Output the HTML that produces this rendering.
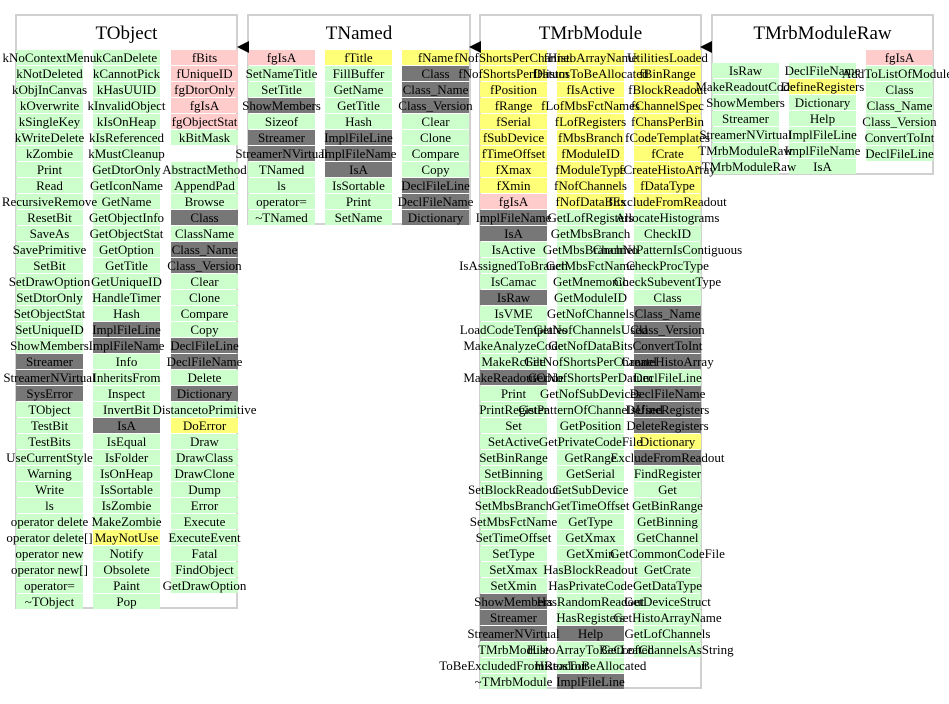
<!DOCTYPE html>
<html><head><meta charset="utf-8">
<style>
html,body{margin:0;padding:0;background:#fff;}
svg{display:block;}
text{font-family:"Liberation Serif",serif;}
</style></head>
<body>
<svg id="chart" width="949" height="704" viewBox="0 0 949 704" xmlns="http://www.w3.org/2000/svg"></svg>
<script>
// Member lists per class column; color codes: g=method (green), p=static member (pink), y=data member (yellow), d=generated (gray), n=none
const tobjectCol1 = ["kNoContextMenu","kNotDeleted","kObjInCanvas","kOverwrite","kSingleKey","kWriteDelete","kZombie","Print","Read","RecursiveRemove","ResetBit","SaveAs","SavePrimitive","SetBit","SetDrawOption","SetDtorOnly","SetObjectStat","SetUniqueID","ShowMembers","Streamer","StreamerNVirtual","SysError","TObject","TestBit","TestBits","UseCurrentStyle","Warning","Write","ls","operator delete","operator delete[]","operator new","operator new[]","operator=","~TObject"];
const tobjectCol1Kinds = "gggggggggggggggggggdddggggggggggggg";
const tobjectCol2 = ["kCanDelete","kCannotPick","kHasUUID","kInvalidObject","kIsOnHeap","kIsReferenced","kMustCleanup","GetDtorOnly","GetIconName","GetName","GetObjectInfo","GetObjectStat","GetOption","GetTitle","GetUniqueID","HandleTimer","Hash","ImplFileLine","ImplFileName","Info","InheritsFrom","Inspect","InvertBit","IsA","IsEqual","IsFolder","IsOnHeap","IsSortable","IsZombie","MakeZombie","MayNotUse","Notify","Obsolete","Paint","Pop"];
const tobjectCol2Kinds = "gggggggggggggggggddggggdggggggygggggg";
const tobjectCol3 = ["fBits","fUniqueID","fgDtorOnly","fgIsA","fgObjectStat","kBitMask","","AbstractMethod","AppendPad","Browse","Class","ClassName","Class_Name","Class_Version","Clear","Clone","Compare","Copy","DeclFileLine","DeclFileName","Delete","Dictionary","DistancetoPrimitive","DoError","Draw","DrawClass","DrawClone","Dump","Error","Execute","ExecuteEvent","Fatal","FindObject","GetDrawOption"];
const tobjectCol3Kinds = "pppppgngggdgddggggddgdgyggggggggggg";

const tnamedCol1 = ["fgIsA","SetNameTitle","SetTitle","ShowMembers","Sizeof","Streamer","StreamerNVirtual","TNamed","ls","operator=","~TNamed"];
const tnamedCol1Kinds = "pggdgddgggg";
const tnamedCol2 = ["fTitle","FillBuffer","GetName","GetTitle","Hash","ImplFileLine","ImplFileName","IsA","IsSortable","Print","SetName"];
const tnamedCol2Kinds = "yggggdddggg";
const tnamedCol3 = ["fName","Class","Class_Name","Class_Version","Clear","Clone","Compare","Copy","DeclFileLine","DeclFileName","Dictionary"];
const tnamedCol3Kinds = "ydddggggddd";

const moduleCol1 = ["fNofShortsPerChannel","fNofShortsPerDatum","fPosition","fRange","fSerial","fSubDevice","fTimeOffset","fXmax","fXmin","fgIsA","ImplFileName","IsA","IsActive","IsAssignedToBranch","IsCamac","IsRaw","IsVME","LoadCodeTemplates","MakeAnalyzeCode","MakeRcFile","MakeReadoutCode","Print","PrintRegister","Set","SetActive","SetBinRange","SetBinning","SetBlockReadout","SetMbsBranch","SetMbsFctName","SetTimeOffset","SetType","SetXmax","SetXmin","ShowMembers","Streamer","StreamerNVirtual","TMrbModule","ToBeExcludedFromReadout","~TMrbModule"];
const moduleCol1Kinds = "yyyyyyyyypddgggdggggdgggggggggggggdddggg";
const moduleCol2 = ["fHistoArrayName","fHistosToBeAllocated","fIsActive","fLofMbsFctNames","fLofRegisters","fMbsBranch","fModuleID","fModuleType","fNofChannels","fNofDataBits","GetLofRegisters","GetMbsBranch","GetMbsBranchNo","GetMbsFctName","GetMnemonic","GetModuleID","GetNofChannels","GetNofChannelsUsed","GetNofDataBits","GetNofShortsPerChannel","GetNofShortsPerDatum","GetNofSubDevices","GetPatternOfChannelsUsed","GetPosition","GetPrivateCodeFile","GetRange","GetSerial","GetSubDevice","GetTimeOffset","GetType","GetXmax","GetXmin","HasBlockReadout","HasPrivateCode","HasRandomReadout","HasRegisters","Help","HistoArrayToBeCreated","HistosToBeAllocated","ImplFileLine"];
const moduleCol2Kinds = "yyyyyyyyyyggggggggggggggggggggggggggdggd";
const moduleCol3 = ["UtilitiesLoaded","fBinRange","fBlockReadout","fChannelSpec","fChansPerBin","fCodeTemplates","fCrate","fCreateHistoArray","fDataType","fExcludeFromReadout","AllocateHistograms","CheckID","ChannelPatternIsContiguous","CheckProcType","CheckSubeventType","Class","Class_Name","Class_Version","ConvertToInt","CreateHistoArray","DeclFileLine","DeclFileName","DefineRegisters","DeleteRegisters","Dictionary","ExcludeFromReadout","FindRegister","Get","GetBinRange","GetBinning","GetChannel","GetCommonCodeFile","GetCrate","GetDataType","GetDeviceStruct","GetHistoArrayName","GetLofChannels","GetLofChannelsAsString"];
const moduleCol3Kinds = "yyyyyyyyyyggggggddddgdddydgggggggggggg";

const rawCol1 = ["IsRaw","MakeReadoutCode","ShowMembers","Streamer","StreamerNVirtual","TMrbModuleRaw","~TMrbModuleRaw"];
const rawCol1Kinds = "ggggggg";
const rawCol2 = ["DeclFileName","DefineRegisters","Dictionary","Help","ImplFileLine","ImplFileName","IsA"];
const rawCol2Kinds = "gyggggg";
const rawCol3 = ["fgIsA","AddToListOfModules","Class","Class_Name","Class_Version","ConvertToInt","DeclFileLine"];
const rawCol3Kinds = "pgggggg";

const NS = "http://www.w3.org/2000/svg";
const svg = document.getElementById("chart");
const fills = {g:"#ccffcc", p:"#ffcccc", y:"#ffff77", d:"#777777"};
const ROW = 16, CELLH = 15, CELLW = 67;
const bgLayer = document.createElementNS(NS, "g");
const txtLayer = document.createElementNS(NS, "g");

function mk(tag, attrs, parent) {
  const el = document.createElementNS(NS, tag);
  for (const k in attrs) el.setAttribute(k, attrs[k]);
  parent.appendChild(el);
  return el;
}
function drawBox(name, x, y, w, h, title) {
  const r = mk("rect", {x:x, y:y, width:w, height:h, fill:"#fff", stroke:"#d0d0d0", "stroke-width":2}, svg);
  
  
  const t = mk("text", {x:x + w / 2, y:y + 24, "text-anchor":"middle", "font-size":19, fill:"#000"}, svg);
  t.textContent = title;
  
  
}
function drawCol(name, x, y0, labels, kinds) {
  labels.forEach((lab, i) => {
    const k = kinds[i] || "g";
    if (!lab) return;
    const y = y0 + i * ROW;
    const r = mk("rect", {x:x, y:y, width:CELLW, height:CELLH, fill:fills[k] || "#fff"}, bgLayer);
    
    
    const t = mk("text", {x:x + CELLW / 2, y:y + 12, "text-anchor":"middle", "font-size":13, fill:"#000"}, txtLayer);
    t.textContent = lab;
    
    
  });
}
function drawArrow(name, tipX, tipY) {
  const p = mk("polygon", {points: tipX + "," + tipY + " " + (tipX + 12) + "," + (tipY - 6) + " " + (tipX + 12) + "," + (tipY + 6), fill:"#000"}, svg);
  
  
}

drawBox("tobject", 16, 15, 221, 593, "TObject");
drawBox("tnamed", 248, 15, 222, 209, "TNamed");
drawBox("tmrbmodule", 480, 15, 221, 673, "TMrbModule");
drawBox("tmrbmoduleraw", 712, 15, 221, 159, "TMrbModuleRaw");
svg.appendChild(bgLayer);
svg.appendChild(txtLayer);

drawCol("tobject-col1", 16, 50, tobjectCol1, tobjectCol1Kinds);
drawCol("tobject-col2", 93, 50, tobjectCol2, tobjectCol2Kinds);
drawCol("tobject-col3", 171, 50, tobjectCol3, tobjectCol3Kinds);
drawCol("tnamed-col1", 248, 50, tnamedCol1, tnamedCol1Kinds);
drawCol("tnamed-col2", 325, 50, tnamedCol2, tnamedCol2Kinds);
drawCol("tnamed-col3", 402, 50, tnamedCol3, tnamedCol3Kinds);
drawCol("tmrbmodule-col1", 480, 50, moduleCol1, moduleCol1Kinds);
drawCol("tmrbmodule-col2", 557, 50, moduleCol2, moduleCol2Kinds);
drawCol("tmrbmodule-col3", 634, 50, moduleCol3, moduleCol3Kinds);
drawCol("tmrbmoduleraw-col1", 712, 63, rawCol1, rawCol1Kinds);
drawCol("tmrbmoduleraw-col2", 789, 63, rawCol2, rawCol2Kinds);
drawCol("tmrbmoduleraw-col3", 866, 50, rawCol3, rawCol3Kinds);

drawArrow("tnamed-inherits-arrow", 237, 47);
drawArrow("tmrbmodule-inherits-arrow", 469, 47);
drawArrow("tmrbmoduleraw-inherits-arrow", 700, 47);
</script>
</body></html>
